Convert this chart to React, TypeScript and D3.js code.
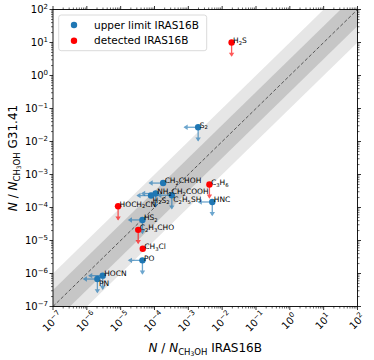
import React from 'react';
import * as d3 from 'd3';

// column density ratios w.r.t. CH3OH
const molecules = ['H2S', 'S2', 'CH2CHOH', 'C3H6', 'NH2CH2COOH', 'H2S2', 'C2H5SH', 'HNC', 'HOCH2CN', 'HS2', 'C2H3CHO', 'CH3Cl', 'PO', 'HOCN', 'PN'];
const ratioIRAS16B = [1.9e-2, 1.95e-3, 1.8e-4, 4.2e-3, 1.08e-4, 7.9e-5, 3.25e-4, 5.1e-3, 8.4e-6, 4.4e-5, 3.3e-5, 4.5e-5, 4.4e-5, 2.95e-6, 2.05e-6];
const ratioG3141 = [1.0e1, 2.7e-2, 5.5e-4, 5.0e-4, 2.65e-4, 2.3e-4, 2.35e-4, 1.47e-4, 1.09e-4, 4.2e-5, 2.1e-5, 5.65e-6, 2.5e-6, 8.6e-7, 6.8e-7];
const detectedIRAS16B = [true, false, false, true, false, false, false, false, true, false, true, true, false, false, false];
const upperLimitG3141 = [true, true, false, true, true, false, true, true, true, true, true, false, true, true, true];
const xErrDex = [0, 0, 0, 0, 0, 0, 0, 0, 0.1, 0, 0, 0, 0, 0, 0];
const labelsBelow = ['H2S2', 'C2H5SH', 'PN'];

const tickExponents = [-7, -6, -5, -4, -3, -2, -1, 0, 1, 2];
const legendItems = ['upper limit IRAS16B', 'detected IRAS16B'];

const W = 374;
const H = 360;
const margin = { top: 9.5, right: 16.5, bottom: 53.5, left: 53 };
const BLUE = '#1f77b4';
const RED = '#ff0000';
const ARROW = 0.4; // limit arrows run from the value down to 0.4 * value
const FONT = 'DejaVu Sans, sans-serif';

function Formula({ name, size }: { name: string; size: number }) {
  // digits become subscripts
  const parts = name.match(/[0-9]+|[^0-9]+/g) || [];
  const shift = size * 0.25;
  let low = false;
  return (
    <>
      {parts.map((p, i) => {
        const isSub = /^[0-9]+$/.test(p);
        let dy = 0;
        if (isSub && !low) { dy = shift; low = true; }
        else if (!isSub && low) { dy = -shift; low = false; }
        return (
          <tspan key={i} dy={dy} fontSize={isSub ? size * 0.7 : size}>{p}</tspan>
        );
      })}
    </>
  );
}

function Power({ exp, size }: { exp: number; size: number }) {
  return (
    <>
      <tspan fontSize={size}>10</tspan>
      <tspan fontSize={size * 0.7} dy={-size * 0.42}>{exp < 0 ? '\u2212' + Math.abs(exp) : String(exp)}</tspan>
    </>
  );
}

function AxisTitle({ tail }: { tail: string }) {
  return (
    <>
      <tspan fontStyle="italic">N</tspan>
      <tspan> / </tspan>
      <tspan fontStyle="italic">N</tspan>
      <tspan fontSize={8.5} dy={3}>CH</tspan>
      <tspan fontSize={6} dy={1.2}>3</tspan>
      <tspan fontSize={8.5} dy={-1.2}>OH</tspan>
      <tspan dy={-3}>{' ' + tail}</tspan>
    </>
  );
}

export default function App() {
  const x0 = margin.left;
  const x1 = W - margin.right;
  const y0 = H - margin.bottom;
  const y1 = margin.top;

  const x = d3.scaleLog().domain([1e-7, 1e2]).range([x0, x1]);
  const y = d3.scaleLog().domain([1e-7, 1e2]).range([y0, y1]);

  const band = (dex: number) => {
    const f = Math.pow(10, dex);
    const pts: [number, number][] = [
      [1e-9, 1e-9 * f], [1e3, 1e3 * f], [1e3, 1e3 / f], [1e-9, 1e-9 / f],
    ];
    return pts.map(([a, b]) => `${x(a)},${y(b)}`).join(' ');
  };

  const minor: number[] = [];
  tickExponents.slice(0, -1).forEach((e) => {
    for (let m = 2; m <= 9; m++) minor.push(m * Math.pow(10, e));
  });
  const major = tickExponents.map((e) => Math.pow(10, e));

  const arrowDown = (px: number, py: number, ey: number, color: string) => (
    <g stroke={color} fill={color} opacity={0.65}>
      <line x1={px} y1={py} x2={px} y2={ey} strokeWidth={1.3} />
      <path d={`M${px - 2.7},${ey - 3} L${px + 2.7},${ey - 3} L${px},${ey + 1.2} Z`} stroke="none" />
    </g>
  );
  const arrowLeft = (px: number, py: number, ex: number, color: string) => (
    <g stroke={color} fill={color} opacity={0.65}>
      <line x1={px} y1={py} x2={ex} y2={py} strokeWidth={1.3} />
      <path d={`M${ex + 3},${py - 2.7} L${ex + 3},${py + 2.7} L${ex - 1.2},${py} Z`} stroke="none" />
    </g>
  );

  return (
    <svg width={W} height={H} style={{ position: 'absolute', left: 0, top: 0, background: '#fff' }} fontFamily={FONT}>
      <defs>
        <clipPath id="plot">
          <rect x={x0} y={y1} width={x1 - x0} height={y0 - y1} />
        </clipPath>
      </defs>
      <rect width={W} height={H} fill="#fff" />

      <g clipPath="url(#plot)">
        <polygon points={band(1)} fill="#e6e6e6" />
        <polygon points={band(0.5)} fill="#c6c6c6" />
        <line x1={x(1e-7)} y1={y(1e-7)} x2={x(1e2)} y2={y(1e2)} stroke="#444" strokeWidth={1} strokeDasharray="3.5,2" opacity={0.85} />
      </g>

      {molecules.map((m, i) => {
        const px = x(ratioIRAS16B[i]);
        const py = y(ratioG3141[i]);
        const color = detectedIRAS16B[i] ? RED : BLUE;
        const e = xErrDex[i];
        return (
          <g key={'lim' + m}>
            {e > 0 && (
              <line x1={x(ratioIRAS16B[i] / Math.pow(10, e))} x2={x(ratioIRAS16B[i] * Math.pow(10, e))} y1={py} y2={py} stroke={color} strokeWidth={1.3} opacity={0.65} />
            )}
            {!detectedIRAS16B[i] && arrowLeft(px, py, x(ratioIRAS16B[i] * ARROW), color)}
            {upperLimitG3141[i] && arrowDown(px, py, y(ratioG3141[i] * ARROW), color)}
          </g>
        );
      })}

      {molecules.map((m, i) => (
        <circle key={'pt' + m} cx={x(ratioIRAS16B[i])} cy={y(ratioG3141[i])} r={3.2} fill={detectedIRAS16B[i] ? RED : BLUE} />
      ))}

      {molecules.map((m, i) => (
        <text key={'lb' + m} x={x(ratioIRAS16B[i]) + 1.5} y={y(ratioG3141[i]) + (labelsBelow.includes(m) ? 7 : 0.3)} fontSize={7.5} fill="#000">
          <Formula name={m} size={7.5} />
        </text>
      ))}

      {/* legend */}
      <rect x={58.7} y={15} width={148} height={35.7} rx={2.5} fill="#fff" fillOpacity={0.8} stroke="#d0d0d0" strokeWidth={0.8} />
      {legendItems.map((t, i) => (
        <g key={t}>
          <circle cx={74} cy={25 + i * 15.7} r={3.2} fill={i === 0 ? BLUE : RED} />
          <text x={94} y={25 + i * 15.7} dy="0.36em" fontSize={10.5} fill="#000">{t}</text>
        </g>
      ))}

      {/* spines */}
      <rect x={x0} y={y1} width={x1 - x0} height={y0 - y1} fill="none" stroke="#000" strokeWidth={0.9} />

      {/* ticks on all four sides */}
      <g stroke="#000">
        {major.map((v) => (
          <g key={'M' + v} strokeWidth={0.8}>
            <line x1={x(v)} x2={x(v)} y1={y0} y2={y0 + 3.5} />
            <line x1={x(v)} x2={x(v)} y1={y1} y2={y1 - 3.5} />
            <line y1={y(v)} y2={y(v)} x1={x0} x2={x0 - 3.5} />
            <line y1={y(v)} y2={y(v)} x1={x1} x2={x1 + 3.5} />
          </g>
        ))}
        {minor.map((v) => (
          <g key={'m' + v} strokeWidth={0.6}>
            <line x1={x(v)} x2={x(v)} y1={y0} y2={y0 + 2} />
            <line x1={x(v)} x2={x(v)} y1={y1} y2={y1 - 2} />
            <line y1={y(v)} y2={y(v)} x1={x0} x2={x0 - 2} />
            <line y1={y(v)} y2={y(v)} x1={x1} x2={x1 + 2} />
          </g>
        ))}
      </g>

      {tickExponents.map((e) => (
        <text key={'yt' + e} x={x0 - 5} y={y(Math.pow(10, e)) + 3.6} textAnchor="end" fontSize={10} fill="#000">
          <Power exp={e} size={10} />
        </text>
      ))}
      {tickExponents.map((e) => (
        <text key={'xt' + e} transform={`translate(${x(Math.pow(10, e)) - 0.5},${y0 + 15}) rotate(-45)`} textAnchor="middle" y={3.5} fontSize={10} fill="#000">
          <Power exp={e} size={10} />
        </text>
      ))}

      <text x={(x0 + x1) / 2} y={352} textAnchor="middle" fontSize={12} fill="#000">
        <AxisTitle tail="IRAS16B" />
      </text>
      <text transform={`translate(16.5,${(y0 + y1) / 2}) rotate(-90)`} textAnchor="middle" fontSize={12} fill="#000">
        <AxisTitle tail="G31.41" />
      </text>
    </svg>
  );
}
